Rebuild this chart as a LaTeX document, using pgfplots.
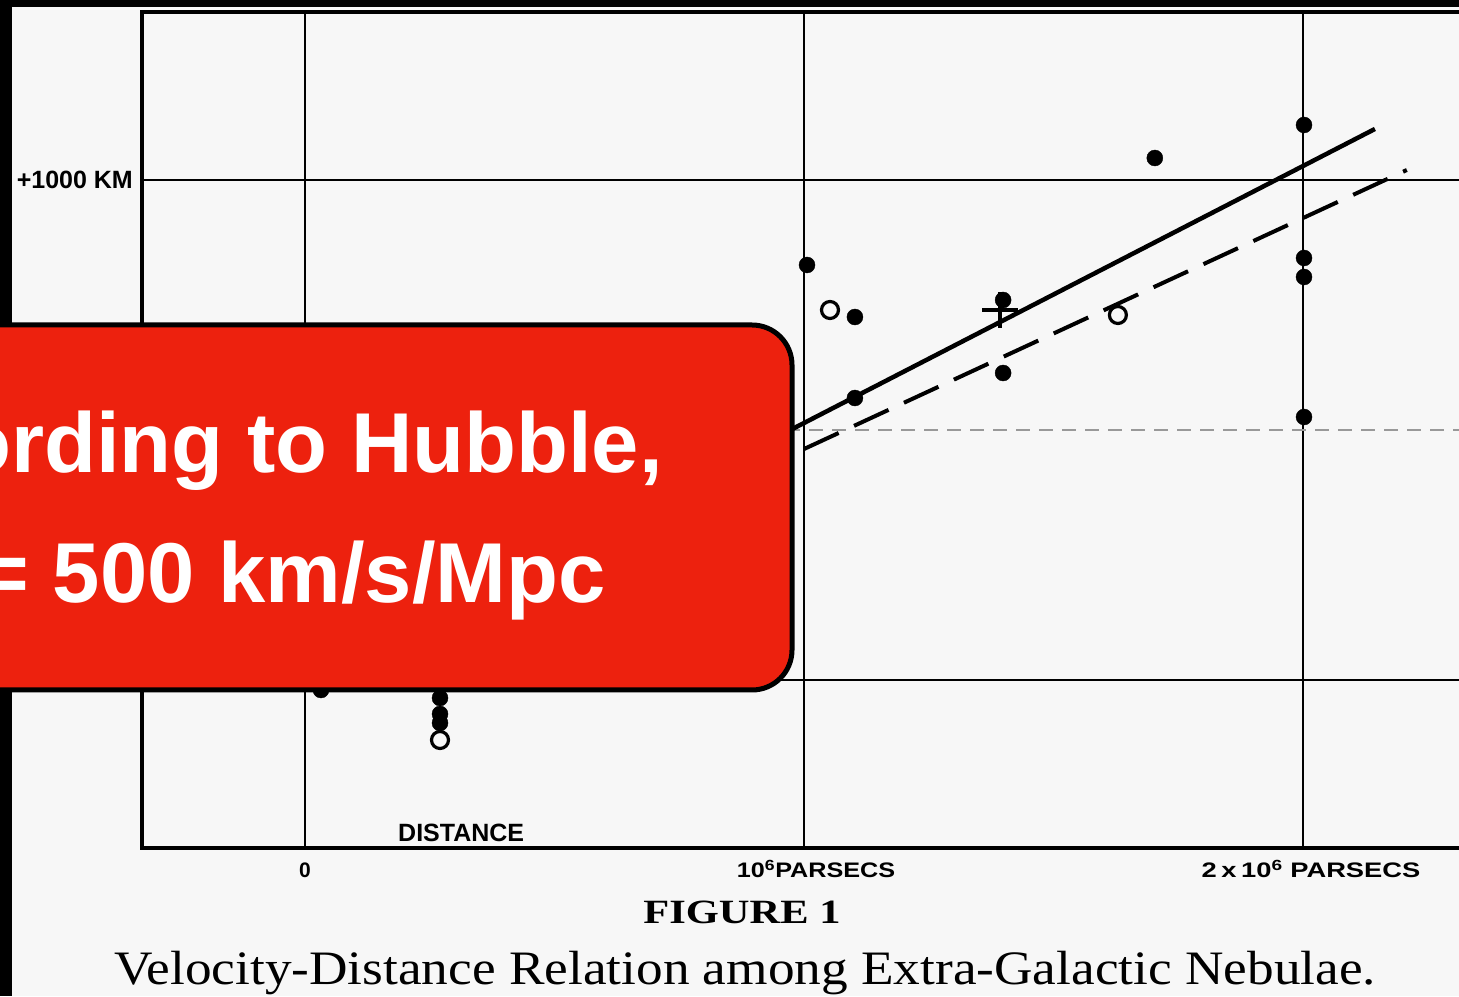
\documentclass[border=0pt]{standalone}
\usepackage{fontspec}
\setmainfont{Liberation Serif}
\newfontfamily\sansf{Liberation Sans}
\usepackage{pgfplots}
\pgfplotsset{compat=1.18}
\definecolor{bg}{RGB}{247,247,247}
\definecolor{boxred}{RGB}{237,33,14}
\begin{document}
\begin{tikzpicture}
\useasboundingbox (0pt,0pt) rectangle (1459pt,996pt);
\clip (0pt,0pt) rectangle (1459pt,996pt);
\fill[bg] (0pt,0pt) rectangle (1459pt,996pt);
\begin{axis}[
  at={(142pt,148pt)}, anchor=south west,
  x=499pt, y=0.5pt,
  xmin=-0.3267, xmax=2.375, ymin=-336, ymax=1336,
  axis line style={line width=3.5pt},
  xtick={0,1,2}, ytick={0,1000},
  xticklabels={}, yticklabels={},
  major tick length=0pt,
  grid=major,
  major grid style={black, line width=2.7pt},
  clip=false,
]
% faint 500 km line
\addplot[black!40, line width=1.6pt, dash pattern=on 14pt off 9pt, no marks] coordinates {(-0.3267,500) (2.375,500)};
% fitted lines
\addplot[black, line width=4.5pt, no marks] coordinates {(0,0) (2.144,1102)};
\addplot[black, line width=4pt, dash pattern=on 38pt off 17pt, no marks] coordinates {(0,0) (2.208,1020)};
% individual nebulae (filled)
\addplot[only marks, mark=*, mark size=8pt, black] coordinates {
 (2.002,1110) (1.703,1044) (1.006,830) (1.102,726) (1.399,760) (1.399,614)
 (1.102,564) (2.002,844) (2.002,806) (2.002,526) (0.032,-20) (0.2705,-36)
 (0.2705,-68) (0.2705,-86)
};
% groups (open)
\addplot[only marks, mark=o, mark size=8.5pt, black, mark options={line width=3.2pt, fill=bg}] coordinates {
 (1.052,740) (1.629,730) (0.2705,-120)
};
% cross
\addplot[only marks, mark=+, mark size=18pt, black, mark options={line width=4pt}] coordinates {(1.393,740)};
\end{axis}
% labels
\node[anchor=east, inner sep=0pt, font=\sansf\bfseries\fontsize{25}{25}\selectfont] at (133pt,816pt) {+1000 KM};
\node[anchor=base, inner sep=0pt, font=\sansf\bfseries\fontsize{21}{21}\selectfont] at (305pt,118pt) {0};
\node[anchor=base, inner sep=0pt, font=\sansf\bfseries\fontsize{21}{21}\selectfont] at (816pt,118pt) {\scalebox{1.2}[1]{10\textsuperscript{6}PARSECS}};
\node[anchor=base, inner sep=0pt, font=\sansf\bfseries\fontsize{21}{21}\selectfont] at (1311pt,118pt) {\scalebox{1.3}[1]{2\,x\,10\textsuperscript{6} PARSECS}};
\node[anchor=base west, inner sep=0pt, font=\sansf\bfseries\fontsize{25}{25}\selectfont] at (398pt,154pt) {DISTANCE};
\node[anchor=base, inner sep=0pt, font=\bfseries\fontsize{34}{34}\selectfont] at (742pt,72pt) {\scalebox{1.25}[1]{FIGURE 1}};
\node[anchor=base, inner sep=0pt, font=\fontsize{48}{48}\selectfont] at (745pt,12pt) {\scalebox{1.11}[1]{Velocity-Distance Relation among Extra-Galactic Nebulae.}};
% black borders (behind the overlay box)
\fill[black] (0pt,0pt) rectangle (12pt,996pt);
\fill[black] (0pt,989pt) rectangle (1459pt,996pt);
% red overlay box
\draw[fill=boxred, line width=5pt, rounded corners=40pt] (-80pt,306pt) rectangle (792pt,671pt);
\node[anchor=base east, inner sep=0pt, text=white, font=\sansf\bfseries\fontsize{85}{85}\selectfont] at (663pt,523pt) {According to Hubble,};
\node[anchor=base east, inner sep=0pt, text=white, font=\sansf\bfseries\fontsize{85}{85}\selectfont] at (606pt,393pt) {H\textsubscript{0} = 500 km/s/Mpc};
\end{tikzpicture}
\end{document}
